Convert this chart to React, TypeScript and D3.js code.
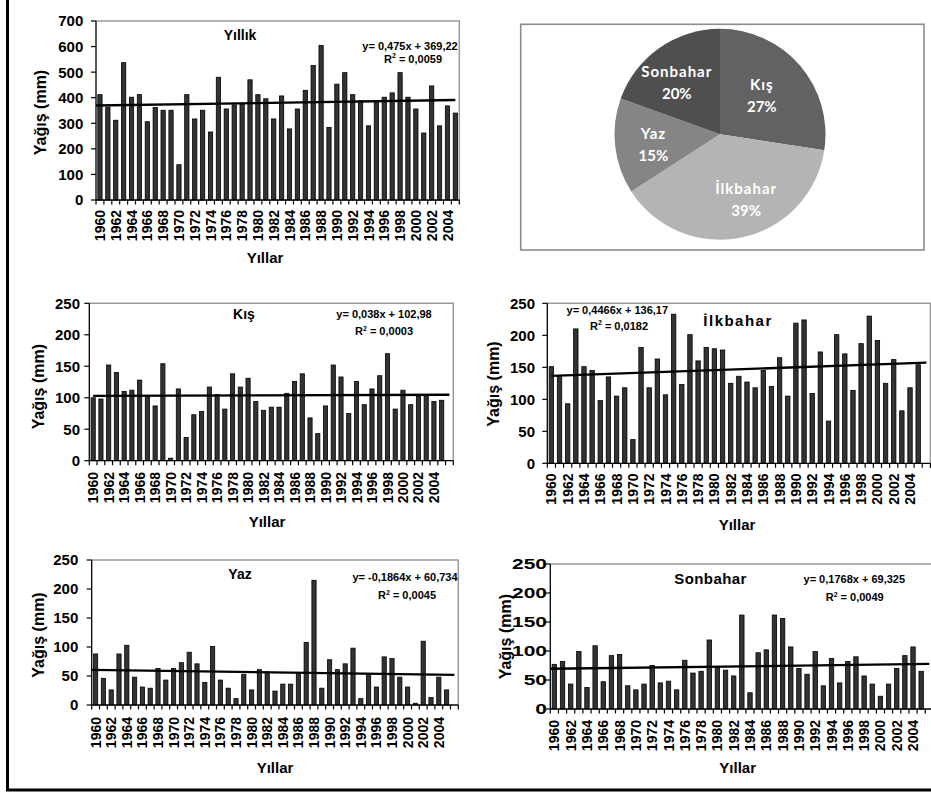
import React, { useEffect, useRef } from 'react';
import * as d3 from 'd3';

// categories
const years = [
  1960, 1961, 1962, 1963, 1964, 1965, 1966, 1967, 1968, 1969,
  1970, 1971, 1972, 1973, 1974, 1975, 1976, 1977, 1978, 1979,
  1980, 1981, 1982, 1983, 1984, 1985, 1986, 1987, 1988, 1989,
  1990, 1991, 1992, 1993, 1994, 1995, 1996, 1997, 1998, 1999,
  2000, 2001, 2002, 2003, 2004, 2005,
];
const extraYear = 2006; // empty slot on the seasonal charts
const yearTicks = [
  1960, 1962, 1964, 1966, 1968, 1970, 1972, 1974, 1976, 1978, 1980,
  1982, 1984, 1986, 1988, 1990, 1992, 1994, 1996, 1998, 2000, 2002, 2004,
];

// precipitation (mm)
const annual = [
  412, 363, 312, 537, 402, 412, 306, 362, 351, 351,
  138, 412, 317, 351, 266, 480, 356, 372, 376, 470,
  412, 396, 317, 407, 278, 356, 429, 526, 604, 284,
  453, 498, 412, 388, 290, 388, 402, 419, 498, 402,
  356, 262, 446, 290, 368, 340,
];
const winter = [
  100, 98, 152, 140, 110, 112, 128, 103, 87, 154,
  4, 114, 37, 73, 78, 117, 105, 82, 138, 117,
  131, 94, 80, 85, 85, 107, 126, 138, 68, 43,
  87, 152, 133, 75, 126, 89, 114, 135, 170, 82,
  112, 89, 103, 104, 94, 96,
];
const spring = [
  151, 136, 93, 210, 151, 145, 98, 135, 105, 118,
  37, 181, 118, 163, 107, 233, 123, 201, 160, 181,
  179, 177, 125, 136, 127, 118, 145, 120, 165, 105,
  219, 224, 109, 174, 66, 201, 171, 114, 187, 230,
  192, 125, 162, 82, 118, 154,
];
const summer = [
  88, 46, 26, 88, 103, 48, 31, 29, 63, 43,
  63, 73, 91, 71, 39, 101, 43, 29, 11, 53,
  26, 61, 57, 24, 36, 36, 56, 108, 215, 29,
  78, 61, 71, 98, 11, 53, 31, 83, 80, 48,
  31, 3, 110, 13, 48, 26,
];
const autumn = [
  77, 82, 43, 99, 37, 109, 47, 92, 94, 40,
  33, 43, 75, 45, 48, 33, 84, 62, 65, 119,
  72, 67, 57, 162, 28, 97, 102, 162, 156, 107,
  70, 60, 99, 40, 87, 45, 82, 90, 57, 43,
  22, 43, 70, 92, 107, 65,
];

// seasonal shares
const pieNames = ['Kış', 'İlkbahar', 'Yaz', 'Sonbahar'];
const pieShares = [27.4, 38.5, 14.6, 19.5];
const pieColors = ['#626262', '#b4b4b4', '#858585', '#4f4f4f'];
const pieNudge = [[-6, 3], [13, 4], [-4, 4], [-7, 0]];

const FONT = '"Liberation Sans", Arial, sans-serif';

const panels = [
  {
    values: annual, slots: 46, title: 'Yıllık', eq: 'y= 0,475x + 369,22', r2: '0,0059', a: 0.475, b: 369.22,
    yMax: 700, yStep: 100, x0: 96, x1: 459.3, top: 21, bottom: 200, tickRight: 83.3, tickStretch: 1,
    titleX: 240, titleY: 40, titleLen: 0, eqX: 410, eqY: 49.5, r2X: 413, r2Y: 62.5,
    yTitleX: 40, yTitleY: 112.5, xLabTop: 210, xTitleX: 265, xTitleY: 263, trendFrom: 0.5, trendTo: 46,
  },
  {
    values: winter, slots: 47, title: 'Kış', eq: 'y= 0,038x + 102,98', r2: '0,0003', a: 0.038, b: 102.98,
    yMax: 250, yStep: 50, x0: 89.3, x1: 453.3, top: 303.3, bottom: 460.7, tickRight: 80, tickStretch: 1,
    titleX: 244, titleY: 318.5, titleLen: 0, eqX: 384, eqY: 318, r2X: 384, r2Y: 335,
    yTitleX: 38.3, yTitleY: 386.7, xLabTop: 472, xTitleX: 267, xTitleY: 527, trendFrom: 1, trendTo: 47,
  },
  {
    values: spring, slots: 47, title: 'İlkbahar', eq: 'y= 0,4466x + 136,17', r2: '0,0182', a: 0.4466, b: 136.17,
    yMax: 250, yStep: 50, x0: 547.3, x1: 930.4, top: 303.3, bottom: 463.3, tickRight: 535, tickStretch: 1,
    titleX: 737.3, titleY: 326, titleLen: 68, eqX: 617.3, eqY: 314, r2X: 619, r2Y: 329.7,
    yTitleX: 492.8, yTitleY: 384, xLabTop: 473.5, xTitleX: 737, xTitleY: 530, trendFrom: 1, trendTo: 47,
  },
  {
    values: summer, slots: 47, title: 'Yaz', eq: 'y= -0,1864x + 60,734', r2: '0,0045', a: -0.1864, b: 60.734,
    yMax: 250, yStep: 50, x0: 91.7, x1: 458.3, top: 560, bottom: 705, tickRight: 78.3, tickStretch: 1,
    titleX: 240, titleY: 578.5, titleLen: 0, eqX: 405, eqY: 581.3, r2X: 407, r2Y: 599.3,
    yTitleX: 38.3, yTitleY: 635, xLabTop: 717, xTitleX: 275, xTitleY: 773, trendFrom: 0.5, trendTo: 47,
  },
  {
    values: autumn, slots: 47, title: 'Sonbahar', eq: 'y= 0,1768x + 69,325', r2: '0,0049', a: 0.1768, b: 69.325,
    yMax: 250, yStep: 50, x0: 550.3, x1: 933.4, top: 564, bottom: 709, tickRight: 547, tickStretch: 1.4,
    titleX: 710.3, titleY: 583.5, titleLen: 72, eqX: 854.3, eqY: 583, r2X: 854.7, r2Y: 601,
    yTitleX: 505, yTitleY: 636.7, xLabTop: 720, xTitleX: 737.7, xTitleY: 773, trendFrom: 0.5, trendTo: 47,
  },
];

function drawPanel(svg: any, p: any) {
  const g = svg.append('g');
  const cats = p.slots === 47 ? [...years, extraYear] : years;
  const x = d3.scaleBand<number>().domain(cats).range([p.x0, p.x1]).paddingInner(0.46).paddingOuter(0.23);
  const xi = d3.scaleLinear().domain([0.5, cats.length + 0.5]).range([p.x0, p.x1]);
  const y = d3.scaleLinear().domain([0, p.yMax]).range([p.bottom, p.top]);

  // plot area border (top + right)
  g.append('path').attr('d', `M${p.x0},${p.top}H${p.x1}V${p.bottom}`)
    .attr('fill', 'none').attr('stroke', '#9a9a9a').attr('stroke-width', 1.5);

  g.selectAll('rect.bar').data(p.values).join('rect').attr('class', 'bar')
    .attr('x', (d: number, i: number) => x(years[i]))
    .attr('width', x.bandwidth())
    .attr('y', (d: number) => y(d))
    .attr('height', (d: number) => y(0) - y(d))
    .attr('fill', '#333').attr('stroke', '#000').attr('stroke-width', 0.8);

  // trend line
  g.append('line')
    .attr('x1', xi(p.trendFrom)).attr('y1', y(p.a * p.trendFrom + p.b))
    .attr('x2', xi(p.trendTo)).attr('y2', y(p.a * p.trendTo + p.b))
    .attr('stroke', '#000').attr('stroke-width', 2.3);

  // y axis
  const yTicks = d3.range(0, p.yMax + 1, p.yStep);
  g.append('line').attr('x1', p.x0).attr('x2', p.x0).attr('y1', p.top).attr('y2', p.bottom)
    .attr('stroke', '#000').attr('stroke-width', 1.3);
  g.selectAll('line.yt').data(yTicks).join('line').attr('class', 'yt')
    .attr('x1', p.x0 - 5).attr('x2', p.x0).attr('y1', (d: number) => y(d)).attr('y2', (d: number) => y(d))
    .attr('stroke', '#000').attr('stroke-width', 1.2);
  g.selectAll('text.yl').data(yTicks).join('text').attr('class', 'yl')
    .attr('transform', (d: number) => `translate(${p.tickRight},${y(d)}) scale(${p.tickStretch},1)`)
    .attr('dy', '0.36em').attr('text-anchor', 'end')
    .style('font-family', FONT).style('font-weight', 'bold').style('font-size', '15px')
    .text((d: number) => d);

  // x axis
  g.append('line').attr('x1', p.x0).attr('x2', p.x1).attr('y1', p.bottom).attr('y2', p.bottom)
    .attr('stroke', '#000').attr('stroke-width', 1.3);
  g.selectAll('line.xt').data(d3.range(cats.length + 1)).join('line').attr('class', 'xt')
    .attr('x1', (k: number) => p.x0 + k * x.step()).attr('x2', (k: number) => p.x0 + k * x.step())
    .attr('y1', p.bottom).attr('y2', p.bottom + 4.5)
    .attr('stroke', '#000').attr('stroke-width', 1.2);
  g.selectAll('text.xl').data(yearTicks).join('text').attr('class', 'xl')
    .attr('transform', (d: number) => `translate(${(x(d) as number) + x.bandwidth() / 2},${p.xLabTop}) rotate(-90)`)
    .attr('dy', '0.36em').attr('text-anchor', 'end')
    .style('font-family', FONT).style('font-weight', 'bold').style('font-size', '14px')
    .text((d: number) => d);

  // titles
  const title = g.append('text').attr('x', p.titleX).attr('y', p.titleY).attr('text-anchor', 'middle')
    .style('font-family', FONT).style('font-weight', 'bold').style('font-size', p.titleLen ? '15px' : '14px')
    .text(p.title);
  if (p.titleLen) title.attr('textLength', p.titleLen).attr('lengthAdjust', 'spacing');

  g.append('text').attr('x', p.eqX).attr('y', p.eqY).attr('text-anchor', 'middle')
    .style('font-family', FONT).style('font-weight', 'bold').style('font-size', '11px')
    .text(p.eq);
  const r2 = g.append('text').attr('x', p.r2X).attr('y', p.r2Y).attr('text-anchor', 'middle')
    .style('font-family', FONT).style('font-weight', 'bold').style('font-size', '11px');
  r2.append('tspan').text('R');
  r2.append('tspan').attr('dy', -4.5).style('font-size', '7px').text('2');
  r2.append('tspan').attr('dy', 4.5).text(' = ' + p.r2);

  g.append('text').attr('transform', `translate(${p.yTitleX},${p.yTitleY}) rotate(-90)`)
    .attr('dy', '0.36em').attr('text-anchor', 'middle')
    .style('font-family', FONT).style('font-weight', 'bold').style('font-size', '16px')
    .text('Yağış (mm)');

  g.append('text').attr('x', p.xTitleX).attr('y', p.xTitleY).attr('text-anchor', 'middle')
    .style('font-family', FONT).style('font-weight', 'bold').style('font-size', '15px')
    .text('Yıllar');
}

function drawPie(svg: any) {
  const cx = 720, cy = 134.3, r = 105.5;
  svg.append('rect').attr('x', 520.7).attr('y', 24.3).attr('width', 403.3).attr('height', 225.7)
    .attr('fill', '#fff').attr('stroke', '#8c8c8c').attr('stroke-width', 1.6);

  const arcs = d3.pie<number>().sort(null).value(d => d)(pieShares);
  const arc = d3.arc<any>().innerRadius(0).outerRadius(r);
  const labelArc = d3.arc<any>().innerRadius(63).outerRadius(63);
  const g = svg.append('g').attr('transform', `translate(${cx},${cy})`);

  g.selectAll('path').data(arcs).join('path')
    .attr('d', arc).attr('fill', (d: any, i: number) => pieColors[i]);

  const lab = g.selectAll('g.lab').data(arcs).join('g').attr('class', 'lab')
    .attr('transform', (d: any, i: number) => {
      const [lx, ly] = labelArc.centroid(d);
      return `translate(${lx + pieNudge[i][0]},${ly + pieNudge[i][1]})`;
    });
  lab.append('text').attr('y', -6).attr('text-anchor', 'middle')
    .style('font-family', 'Lato, "Open Sans", sans-serif').style('font-weight', 'bold')
    .style('font-size', '15px').style('letter-spacing', '1px').attr('fill', '#fff')
    .text((d: any, i: number) => pieNames[i]);
  lab.append('text').attr('y', 16).attr('text-anchor', 'middle')
    .style('font-family', 'Lato, "Open Sans", sans-serif').style('font-weight', 'bold')
    .style('font-size', '15px').attr('fill', '#fff')
    .text((d: any) => Math.round(d.data) + '%');
}

export default function App() {
  const ref = useRef<SVGSVGElement>(null);

  useEffect(() => {
    const svg = d3.select(ref.current);
    svg.selectAll('*').remove();
    svg.append('rect').attr('width', 931).attr('height', 796).attr('fill', '#fff');
    // outer frame
    svg.append('rect').attr('x', 7.5).attr('y', -10).attr('width', 960).attr('height', 800)
      .attr('fill', 'none').attr('stroke', '#000').attr('stroke-width', 3);
    panels.forEach(p => drawPanel(svg, p));
    drawPie(svg);
  }, []);

  return (
    <svg ref={ref} width={931} height={796} style={{ position: 'absolute', left: 0, top: 0 }} />
  );
}
